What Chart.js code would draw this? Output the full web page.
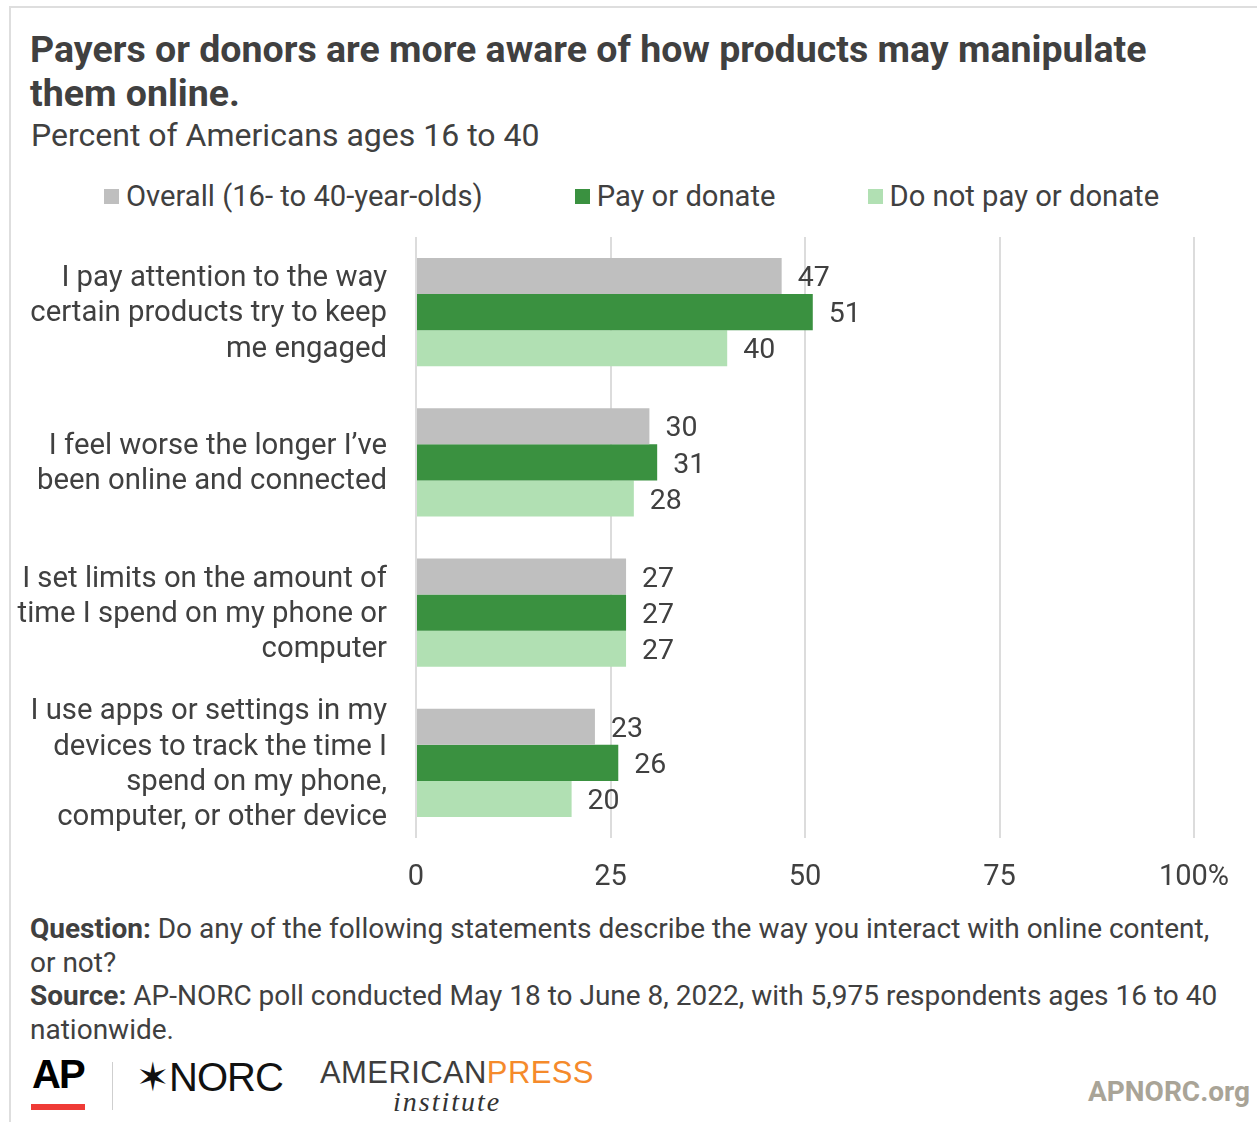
<!DOCTYPE html>
<html><head><meta charset="utf-8">
<script src="https://cdn.jsdelivr.net/npm/chart.js@4/dist/chart.umd.min.js"></script>
<style>
html,body{margin:0;padding:0;background:#fff}
body{width:1257px;height:1122px;position:relative;overflow:hidden;font-family:Roboto,"Noto Sans",sans-serif;color:#404040}
.frame{position:absolute;left:9px;top:6px;width:1300px;height:1200px;border:2px solid #dedede;box-sizing:border-box}
#title{position:absolute;left:30px;top:27px;font-weight:700;font-size:37.5px;line-height:44px;white-space:nowrap;color:#404040}
#subtitle{position:absolute;left:31px;top:115px;font-size:32px;line-height:40px;white-space:nowrap;color:#404040}
#legend{position:absolute;left:104px;top:177px;display:flex;gap:92px;font-size:29.2px;line-height:38px;white-space:nowrap}
#legend .item{display:flex;align-items:center}
#legend .sw{width:15px;height:15px;margin-right:7px}
#chartwrap{position:absolute;left:0;top:225px;width:1257px;height:680px}
#notes{position:absolute;left:30px;top:912px;font-size:28px;line-height:33.5px;white-space:nowrap;color:#404040}
#notes b{font-weight:700}
.logo{position:absolute;white-space:nowrap}
</style>
</head><body>
<div class="frame"></div>
<div id="title">Payers or donors are more aware of how products may manipulate<br>them online.</div>
<div id="subtitle">Percent of Americans ages 16 to 40</div>
<div id="legend"></div>
<div id="chartwrap"><canvas id="c"></canvas></div>
<div id="notes"><b>Question:</b> Do any of the following statements describe the way you interact with online content,<br>or not?<br><b>Source:</b> AP-NORC poll conducted May 18 to June 8, 2022, with 5,975 respondents ages 16 to 40<br>nationwide.</div>
<div class="logo" style="left:32px;top:1052px;font-family:'Liberation Sans Narrow','Liberation Sans',sans-serif;font-weight:700;font-size:40px;color:#000;letter-spacing:-2px">AP</div>
<div class="logo" style="left:31px;top:1104px;width:54px;height:6px;background:#ef3b36"></div>
<div class="logo" style="left:112px;top:1062px;width:1px;height:48px;background:#cfcfcf"></div>
<div class="logo" style="left:136px;top:1054px;font-family:'Liberation Sans Narrow','Liberation Sans',sans-serif;font-size:40px;color:#111;letter-spacing:-1px">✶NORC</div>
<div class="logo" style="left:320px;top:1055px;font-family:'Liberation Sans Narrow','Liberation Sans',sans-serif;font-size:31px;letter-spacing:0.4px;color:#3d3d3d">AMERICAN<span style="color:#f58a2b">PRESS</span></div>
<div class="logo" style="left:393px;top:1086px;font-family:'Liberation Serif',serif;font-style:italic;font-size:28px;letter-spacing:2px;color:#333">institute</div>
<div class="logo" style="left:1088px;top:1075px;font-family:Roboto,sans-serif;font-weight:700;font-size:28px;color:#a9a497">APNORC.org</div>
<script>
const categories = [
  ["I pay attention to the way","certain products try to keep","me engaged"],
  ["I feel worse the longer I\u2019ve","been online and connected"],
  ["I set limits on the amount of","time I spend on my phone or","computer"],
  ["I use apps or settings in my","devices to track the time I","spend on my phone,","computer, or other device"]
];
const seriesNames = ["Overall (16- to 40-year-olds)","Pay or donate","Do not pay or donate"];
const seriesColors = ["#bfbfbf","#3a9140","#b1e0b3"];
const overall = [47,30,27,23];
const payOrDonate = [51,31,27,26];
const doNotPay = [40,28,27,20];
const xTicks = [0,25,50,75,100];

const seriesValues = [overall, payOrDonate, doNotPay];

const lg = document.getElementById('legend');
seriesNames.forEach((n,i)=>{
  const it=document.createElement('div');it.className='item';
  const sw=document.createElement('span');sw.className='sw';sw.style.background=seriesColors[i];
  const tx=document.createElement('span');tx.textContent=n;
  it.appendChild(sw);it.appendChild(tx);lg.appendChild(it);
});

const FAMILY = "Roboto, 'Noto Sans', sans-serif";
const TEXT = '#404040';

const valueLabels = {
  id:'valueLabels',
  afterDatasetsDraw(chart){
    const ctx=chart.ctx;
    ctx.save();
    ctx.font = `28.5px ${FAMILY}`;
    ctx.fillStyle = TEXT;
    ctx.textAlign='left';ctx.textBaseline='middle';
    chart.data.datasets.forEach((ds,di)=>{
      const meta=chart.getDatasetMeta(di);
      meta.data.forEach((el,i)=>{
        ctx.fillText(String(ds.data[i]), el.x+16, el.y+3);
      });
    });
    ctx.restore();
  }
};

new Chart(document.getElementById('c'),{
  type:'bar',
  data:{
    labels:categories,
    datasets:seriesNames.map((n,i)=>({
      label:n,data:seriesValues[i],backgroundColor:seriesColors[i],
      borderWidth:0,categoryPercentage:0.72,barPercentage:1.0
    }))
  },
  options:{
    indexAxis:'y',
    responsive:true,maintainAspectRatio:false,animation:false,
    layout:{padding:{left:0,right:63,top:12,bottom:0}},
    plugins:{legend:{display:false},tooltip:{enabled:false},title:{display:false}},
    scales:{
      x:{
        min:0,max:100,
        afterBuildTicks(axis){axis.ticks = xTicks.map(v=>({value:v}));},
        afterFit(axis){axis.height = 67; axis.paddingLeft = 0; axis.paddingRight = 0;},
        grid:{color:'#dcdcdc',lineWidth:2,drawTicks:false},
        border:{display:false},
        ticks:{padding:22,color:TEXT,font:{family:FAMILY,size:29},maxRotation:0,
          callback:(v)=> v===100 ? '100%' : String(v)}
      },
      y:{
        afterFit(axis){axis.width = 416; axis.paddingTop = 0; axis.paddingBottom = 0;},
        grid:{display:false,drawTicks:false},
        border:{display:false},
        ticks:{padding:29,labelOffset:2,color:TEXT,font:{family:FAMILY,size:29.3,lineHeight:1.2}}
      }
    }
  },
  plugins:[valueLabels]
});
</script>
</body></html>
